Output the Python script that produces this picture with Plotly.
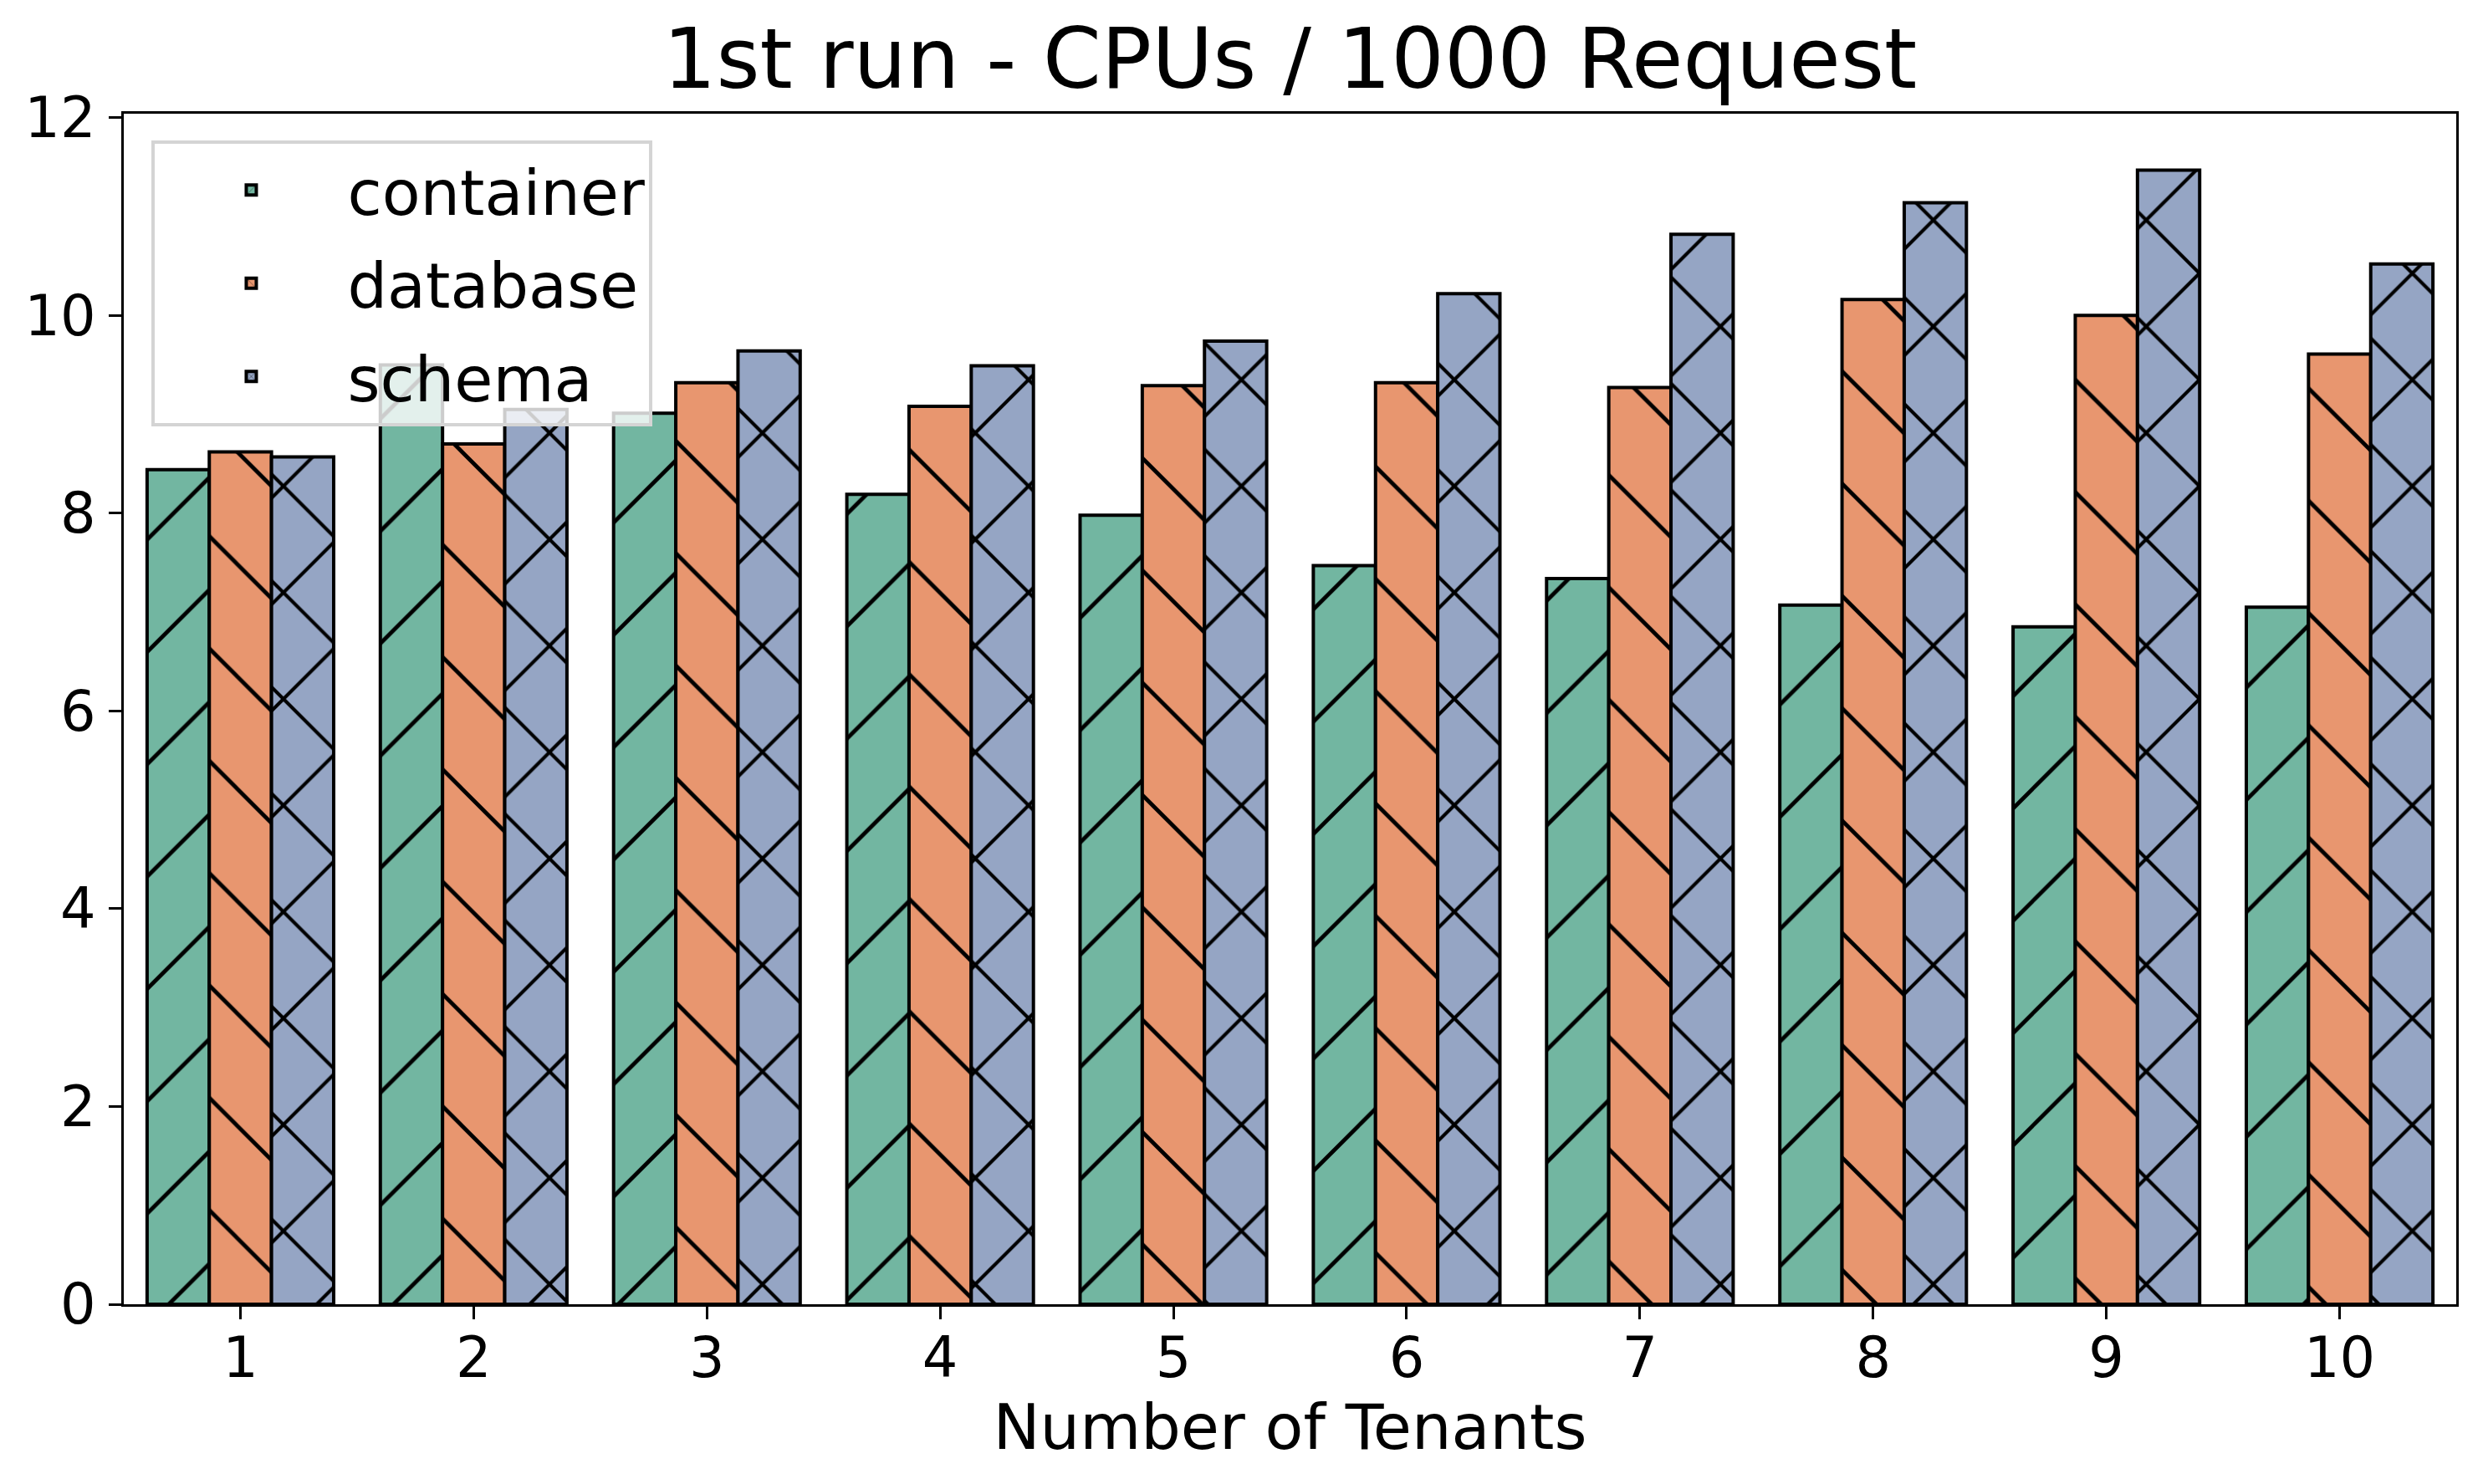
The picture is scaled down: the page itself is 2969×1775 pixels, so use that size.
import plotly.graph_objects as go

tenants = [1, 2, 3, 4, 5, 6, 7, 8, 9, 10]
container = [8.44, 9.50, 9.01, 8.19, 7.98, 7.47, 7.34, 7.07, 6.85, 7.05]
database = [8.62, 8.70, 9.32, 9.08, 9.29, 9.32, 9.27, 10.16, 10.00, 9.61]
schema = [8.57, 9.05, 9.64, 9.49, 9.74, 10.22, 10.82, 11.14, 11.47, 10.52]
y_ticks = [0, 2, 4, 6, 8, 10, 12]

series = [
    ("container", container, "#72b6a1", "/", 95, 0.05),
    ("database", database, "#e8966f", "\\", 95, 0.05),
    ("schema", schema, "#95a5c4", "x", 90, 0.09),
]

FONT = "DejaVu Sans"
PAGE_OFFSET = 8  # default body margin of the html page

fig = go.Figure()
for name, vals, color, shape, psize, sol in series:
    fig.add_trace(go.Bar(
        x=tenants, y=vals, name=name, legendgroup=name,
        marker=dict(
            color=color,
            line=dict(color="black", width=4),
            pattern=dict(shape=shape, fgcolor="black", bgcolor=color, size=psize,
                         solidity=sol, fillmode="replace"),
        ),
    ))

W, H = 2969 - PAGE_OFFSET, 1775 - PAGE_OFFSET
fig.update_layout(
    width=W, height=H,
    paper_bgcolor="white", plot_bgcolor="white",
    margin=dict(l=148 - PAGE_OFFSET, r=32, t=136 - PAGE_OFFSET, b=215, autoexpand=False),
    barmode="group", bargap=0.2, bargroupgap=0,
    font=dict(family=FONT, color="black", size=67),
    title=dict(text="1st run - CPUs / 1000 Request", x=0.5, xref="paper",
               xanchor="center", y=1 - (70 - PAGE_OFFSET) / H, yref="container",
               yanchor="middle",
               font=dict(family=FONT, size=100, color="black")),
    legend=dict(
        x=0.012, y=0.9775, xanchor="left", yanchor="top",
        bgcolor="rgba(255,255,255,0.8)", bordercolor="#d4d4d4", borderwidth=4,
        font=dict(family=FONT, size=75, color="black"),
        tracegroupgap=11, itemwidth=220,
    ),
    xaxis=dict(
        range=[0.5, 10.5], tickmode="array", tickvals=tenants,
        ticktext=[str(t) for t in tenants],
        showline=True, linecolor="black", linewidth=3, mirror=True,
        ticks="outside", ticklen=15, tickwidth=3, tickcolor="black",
        showgrid=False, zeroline=False,
        tickfont=dict(family=FONT, size=67),
        ticklabelstandoff=-11,
        title=dict(text="Number of Tenants", font=dict(family=FONT, size=75), standoff=14),
    ),
    yaxis=dict(
        range=[0, 12.04], tickmode="array", tickvals=y_ticks,
        showline=True, linecolor="black", linewidth=3, mirror=True,
        ticks="outside", ticklen=15, tickwidth=3, tickcolor="black",
        showgrid=False, zeroline=False,
        tickfont=dict(family=FONT, size=67),
        ticklabelstandoff=2,
    ),
)

fig.write_html("out.html")
